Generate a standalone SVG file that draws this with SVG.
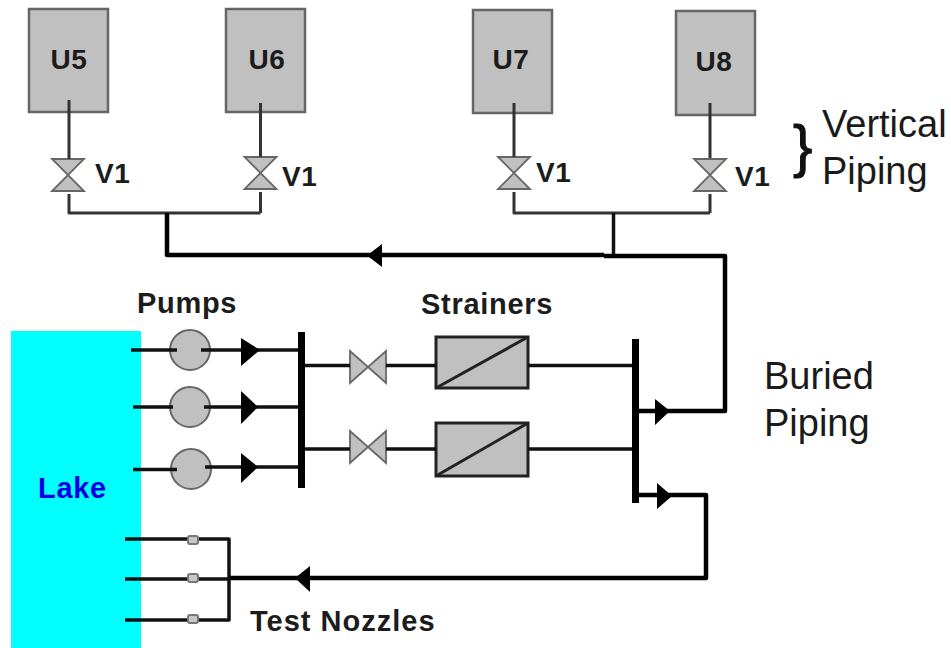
<svg xmlns="http://www.w3.org/2000/svg" width="951" height="648" viewBox="0 0 951 648">
<style>
.t{font-family:"Liberation Sans",Arial,sans-serif;fill:#1c1c1c}
.b{font-weight:bold;font-size:29px;letter-spacing:.7px}
.c{font-weight:bold;font-size:28px;letter-spacing:.6px}
.r{font-size:38px;fill:#1a1a1a}
.box{fill:#c0c0c0;stroke:#666;stroke-width:2.500}
.s{fill:#c0c0c0;stroke:#222;stroke-width:3}
.v{fill:#c0c0c0;stroke:#666;stroke-width:1.800}
.p{fill:#c0c0c0;stroke:#666;stroke-width:2}
.n{fill:#c8c8c8;stroke:#777;stroke-width:2}
.w{fill:none;stroke:#111;stroke-width:3.500;stroke-linejoin:round}
.w2{fill:none;stroke:#000;stroke-width:4.500;stroke-linejoin:round}
.w3{fill:none;stroke:#000;stroke-width:7}
.u{fill:none;stroke:#333;stroke-width:3;stroke-linejoin:round}
</style>
<defs>
<path id="vv" class="v" d="M-16-16H16L-16 16H16Z"/>
<path id="vh" class="v" d="M-18-16V16L18-16V16Z"/>
<rect id="nz" class="n" x="-5" y="-4" width="10" height="8" rx="2"/>
</defs>
<rect id="lake" x="11" y="331" width="130" height="317" fill="#00ffff"/>
<g id="U5"><rect class="box" x="29" y="9" width="79" height="103"/><text class="t c" x="69" y="69" text-anchor="middle">U5</text></g>
<g id="U6"><rect class="box" x="226" y="9" width="79" height="103"/><text class="t c" x="267" y="69" text-anchor="middle">U6</text></g>
<g id="U7"><rect class="box" x="473" y="10" width="79" height="103"/><text class="t c" x="511" y="69" text-anchor="middle">U7</text></g>
<g id="U8"><rect class="box" x="676" y="11" width="79" height="104"/><text class="t c" x="714" y="71" text-anchor="middle">U8</text></g>
<g id="valve-u5"><use href="#vv" x="68" y="175"/><text class="t c" x="95" y="183">V1</text></g>
<g id="valve-u6"><use href="#vv" x="260.500" y="173"/><text class="t c" x="282" y="186">V1</text></g>
<g id="valve-u7"><use href="#vv" x="514" y="173"/><text class="t c" x="536" y="182">V1</text></g>
<g id="valve-u8"><use href="#vv" x="710" y="175"/><text class="t c" x="735" y="186">V1</text></g>
<g id="pump-1"><circle class="p" cx="190" cy="350" r="20"/></g>
<g id="pump-2"><circle class="p" cx="190" cy="407" r="20"/></g>
<g id="pump-3"><circle class="p" cx="191" cy="469" r="20"/></g>
<g id="valve-a"><use href="#vh" x="368" y="367"/></g>
<g id="valve-b"><use href="#vh" x="368" y="447"/></g>
<g id="strainer-a"><rect class="s" x="436" y="337" width="92" height="51"/><path class="s" d="M436 388L528 337" fill="none"/></g>
<g id="strainer-b"><rect class="s" x="436" y="423" width="92" height="53"/><path class="s" d="M436 476L528 423" fill="none"/></g>
<g id="connectors">
<path class="u" d="M69 100V159M69 194V213H260.500M260.500 103V157M260.500 192V213"/>
<path class="u" d="M514 103V157M514 192V213H710M710 103V158M710 194V213"/>
<path class="w2" d="M167 213V255H604"/>
<path class="w" d="M613.500 213V255"/>
<path class="w2" d="M604 256H725V411H637"/>
<path class="w2" d="M637 495H706V578H230"/>
<path class="w" d="M131 350H177M201 350H300M133 407H173M204 407H300M133 469.500H177M205 467H300"/>
<path class="w" d="M305 365.500H350M386 365.500H436M305 449H350M386 449H436"/>
<path class="w" d="M528 365.500H633M528 449H633"/>
<path class="w" d="M125 539H229V620H125M125 579H229"/>
<path class="w3" d="M301.500 332V488M635.500 339V503"/>
<path d="M367 255.500L382 244V267Z M655 399V425L670 411Z M657 483V509L672 496Z M295 578L310 566V592Z M241 338V366L260 350Z M241 391V424L258 407Z M241 453V483L258 467Z" fill="#000"/>
</g>
<g id="nozzle-1"><use href="#nz" x="193" y="540"/></g>
<g id="nozzle-2"><use href="#nz" x="193" y="578"/></g>
<g id="nozzle-3"><use href="#nz" x="193" y="619"/></g>
<g id="labels">
<text class="t b" x="137" y="313">Pumps</text>
<text class="t b" x="421" y="314">Strainers</text>
<text class="t b" x="250" y="631" style="letter-spacing:1px">Test Nozzles</text>
<text class="t b" x="38" y="498" style="fill:#0000e6">Lake</text>
<text class="t r" x="764" y="389">Buried</text>
<text class="t r" x="764" y="436">Piping</text>
<text class="t r" x="822" y="137">Vertical</text>
<text class="t r" x="822" y="184">Piping</text>
<text x="793" y="166" style="font-family:'Liberation Sans',sans-serif;font-size:58px;fill:#111;stroke:#111;stroke-width:1">}</text>
</g>
</svg>
